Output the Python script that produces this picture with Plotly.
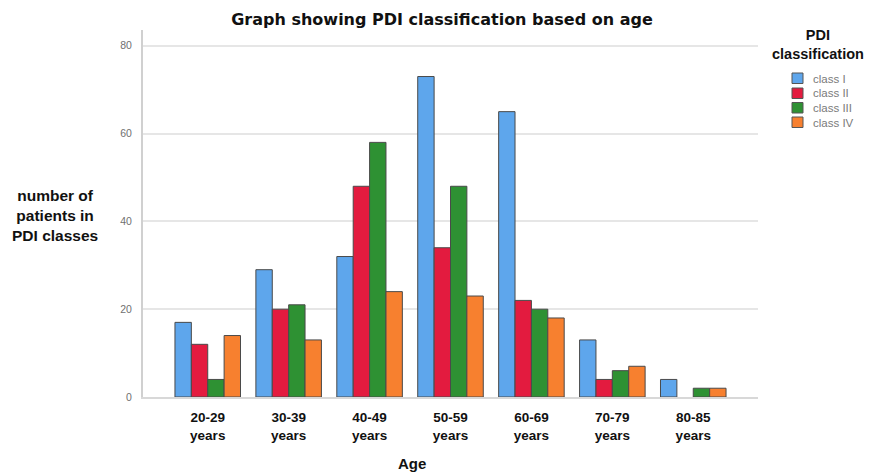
import plotly.graph_objects as go

categories = ["20-29<br>years", "30-39<br>years", "40-49<br>years", "50-59<br>years",
              "60-69<br>years", "70-79<br>years", "80-85<br>years"]
class_I = [17, 29, 32, 73, 65, 13, 4]
class_II = [12, 20, 48, 34, 22, 4, 0]
class_III = [4, 21, 58, 48, 20, 6, 2]
class_IV = [14, 13, 24, 23, 18, 7, 2]

series_names = ["class I", "class II", "class III", "class IV"]
series_values = [class_I, class_II, class_III, class_IV]
colors = ["#5EA6EC", "#E31B3F", "#2E9133", "#F7802F"]

# plot area in figure pixels
L, R, T, B = 135, 125, 22, 83
W, H = 875, 472
PW, PH = W - L - R, H - T - B


def px(fx):
    return (fx - L) / PW


def py(fy):
    return (H - B - fy) / PH


fig = go.Figure()
for name, vals, col in zip(series_names, series_values, colors):
    fig.add_trace(go.Bar(
        x=list(range(len(categories))), y=vals, name=name,
        marker=dict(color=col,
                    line=dict(color="#4a4a4a", width=[1 if v > 0 else 0 for v in vals])),
        showlegend=False,
    ))

fig.update_layout(
    width=W, height=H,
    margin=dict(l=L, r=R, t=T, b=B),
    paper_bgcolor="white", plot_bgcolor="white",
    barmode="group", bargap=0.19, bargroupgap=0,
    font=dict(family="Liberation Sans, Arial, sans-serif", color="#222222"),
    title=dict(text="<b>Graph showing PDI classification based on age</b>",
               x=0.496, xanchor="center", yref="container", y=1 - 11 / H, yanchor="middle",
               font=dict(size=16, color="#111111", family="DejaVu Sans, sans-serif")),
    showlegend=False,
    xaxis=dict(
        tickmode="array", tickvals=list(range(len(categories))),
        ticktext=["<b>" + c + "</b>" for c in categories],
        range=[-0.8, 6.8], showgrid=False, zeroline=False,
        showline=True, linecolor="#d8d8d8", linewidth=1.5,
        tickfont=dict(size=13.5, color="#111111"),
        ticks="", ticklabelstandoff=7,
    ),
    yaxis=dict(
        range=[0, 83.6], tickvals=[0, 20, 40, 60, 80],
        showgrid=True, gridcolor="#e6e6e6", gridwidth=1.5,
        zeroline=False, showline=True, linecolor="#d0d0d0", linewidth=2,
        tickfont=dict(size=10.5, color="#707070"),
        ticks="", ticklabelstandoff=7,
    ),
)

annotations = []
shapes = []

# y-axis title
annotations.append(dict(
    text="<b>number of<br>patients in<br>PDI classes</b>",
    xref="paper", yref="paper", x=px(47), y=py(207),
    xanchor="center", yanchor="middle", showarrow=False,
    font=dict(size=15.5, color="#111111"), align="center",
))
# x-axis title
annotations.append(dict(
    text="<b>Age</b>", xref="paper", yref="paper", x=px(404), y=py(455),
    xanchor="center", yanchor="middle", showarrow=False,
    font=dict(size=15, color="#111111"),
))
# legend title
annotations.append(dict(
    text="<b>PDI<br>classification</b>", xref="paper", yref="paper",
    x=px(810), y=py(36), xanchor="center", yanchor="middle", showarrow=False,
    font=dict(size=14.5, color="#111111"), align="center",
))
# legend entries
row_tops = [65, 80, 94.5, 109]
for name, col, top in zip(series_names, colors, row_tops):
    shapes.append(dict(
        type="rect", xref="paper", yref="paper",
        x0=px(784), x1=px(795), y0=py(top + 10.5), y1=py(top),
        fillcolor=col, line=dict(color="#555555", width=1),
    ))
    annotations.append(dict(
        text=name, xref="paper", yref="paper", x=px(803), y=py(top + 5.5),
        xanchor="left", yanchor="middle", showarrow=False,
        font=dict(size=11.5, color="#7a7a7a"),
    ))

fig.update_layout(annotations=annotations, shapes=shapes)

fig.write_html("out.html")
